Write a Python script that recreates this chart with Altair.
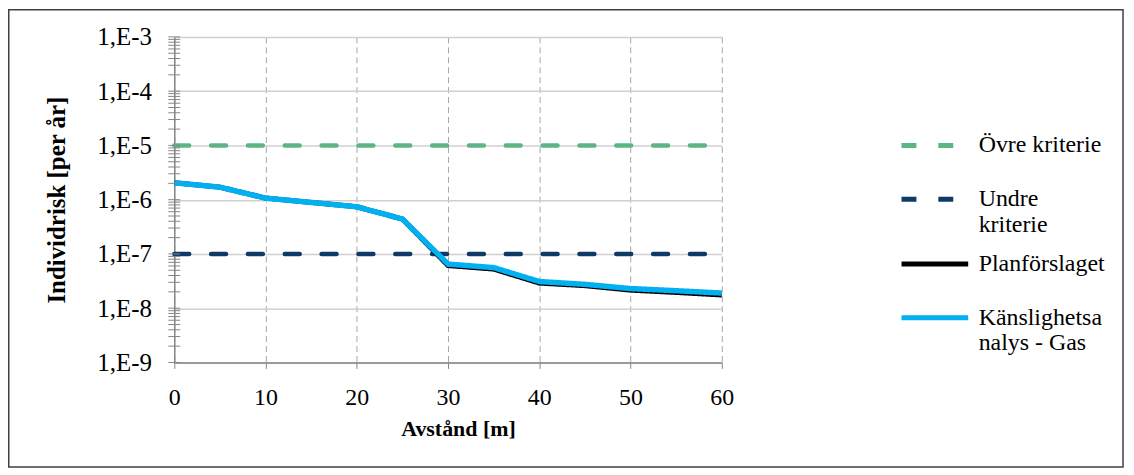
import altair as alt
import pandas as pd

# ---- data ----
distance = [0, 5, 10, 15, 20, 25, 30, 35, 40, 45, 50, 55, 60]
planforslaget = [2.05e-6, 1.7e-6, 1.07e-6, 8.9e-7, 7.4e-7, 4.4e-7, 6.1e-8, 5.25e-8,
                 2.9e-8, 2.6e-8, 2.15e-8, 1.95e-8, 1.75e-8]
kanslighet = [2.05e-6, 1.7e-6, 1.07e-6, 8.9e-7, 7.4e-7, 4.4e-7, 6.5e-8, 5.6e-8,
              3.1e-8, 2.75e-8, 2.3e-8, 2.1e-8, 1.9e-8]
crit_x = [0, 60]
ovre = [1e-5, 1e-5]
undre = [1e-7, 1e-7]

series_names = ["Övre kriterie", "Undre kriterie", "Planförslaget", "Känslighetsanalys - Gas"]
series_colors = ["#5db585", "#0f3a68", "#000000", "#00b0f0"]
series_dash = [[15, 22], [15, 22], [1, 0], [1, 0]]

x_ticks = [0, 10, 20, 30, 40, 50, 60]
y_ticks = [1e-9, 1e-8, 1e-7, 1e-6, 1e-5, 1e-4, 1e-3]
minor_mantissa = [2, 3, 4, 5, 6, 7, 8, 9]

rows = []
for xv, yv in zip(crit_x, ovre):
    rows.append({"x": xv, "y": yv, "series": series_names[0]})
for xv, yv in zip(crit_x, undre):
    rows.append({"x": xv, "y": yv, "series": series_names[1]})
for xv, yv in zip(distance, planforslaget):
    rows.append({"x": xv, "y": yv, "series": series_names[2]})
for xv, yv in zip(distance, kanslighet):
    rows.append({"x": xv, "y": yv, "series": series_names[3]})
df = pd.DataFrame(rows)

tick_vals = list(y_ticks) + [m * d for d in y_ticks[:-1] for m in minor_mantissa]
ticks_df = pd.DataFrame({"y": tick_vals})

FONT = "Liberation Serif, Times New Roman, serif"
AX_GRAY = "#868686"

x_enc = alt.X(
    "x:Q",
    scale=alt.Scale(domain=[0, 60], nice=False, zero=False),
    axis=alt.Axis(
        values=x_ticks, title="Avstånd [m]", grid=True, gridDash=[6, 4],
        gridColor="#a6a6a6", gridWidth=1, tickColor=AX_GRAY, tickSize=6,
        labelFont=FONT, labelFontSize=24, labelPadding=17, labelFlush=False,
        labelOverlap=False, labelColor="black",
        titleFont=FONT, titleFontWeight="bold", titleColor="black",
        titleFontSize=22, titleX=285, titleY=56, titleAlign="center",
        titleBaseline="top", domainColor=AX_GRAY, domainWidth=1.5,
    ),
)
y_scale = alt.Scale(type="log", domain=[1e-9, 1e-3], nice=False)
y_axis = alt.Axis(
    values=y_ticks, title="Individrisk [per år]", grid=True,
    gridColor="#d0d0d0", gridWidth=1.5, ticks=False,
    labelExpr="'1,E' + round(log(datum.value) / LN10)",
    labelFont=FONT, labelFontSize=25, labelPadding=23, labelOverlap=False,
    labelBaseline="middle", labelColor="black",
    titleFont=FONT, titleFontWeight="bold", titleColor="black",
    titleFontSize=25, titleX=-118, titleY=163.5, titleAngle=270,
    titleAlign="center", titleBaseline="middle",
    domainColor=AX_GRAY, domainWidth=1.5,
)
y_enc = alt.Y("y:Q", scale=y_scale, axis=y_axis)

legend = alt.Legend(
    title=None, orient="none", legendX=728, legendY=82, padding=0,
    labelExpr=("datum.label == 'Undre kriterie' ? ['Undre', 'kriterie'] : "
               "datum.label == 'Känslighetsanalys - Gas' ? ['Känslighetsa', 'nalys - Gas'] : datum.label"),
    labelFont=FONT, labelFontSize=24, labelColor="black", labelLimit=0,
    symbolType="stroke", symbolSize=4489, symbolStrokeWidth=5,
    labelOffset=8, rowPadding=0, clipHeight=54,
)

color_enc = alt.Color("series:N", scale=alt.Scale(domain=series_names, range=series_colors),
                      legend=legend)
dash_enc = alt.StrokeDash("series:N", scale=alt.Scale(domain=series_names, range=series_dash),
                          legend=legend)

base = alt.Chart(df).encode(x=x_enc, y=y_enc, color=color_enc, strokeDash=dash_enc)

ovre_line = base.transform_filter(alt.datum.series == series_names[0]).mark_line(strokeWidth=4.5, strokeCap="round")
undre_line = base.transform_filter(alt.datum.series == series_names[1]).mark_line(strokeWidth=4.5, strokeCap="round")
plan_line = base.transform_filter(alt.datum.series == series_names[2]).mark_line(strokeWidth=5)
kansl_line = base.transform_filter(alt.datum.series == series_names[3]).mark_line(strokeWidth=5.5)

tick_rules = alt.Chart(ticks_df).mark_rule(color=AX_GRAY, strokeWidth=1).encode(
    y=alt.Y("y:Q", scale=y_scale, axis=y_axis),
    x=alt.value(-6), x2=alt.value(6),
)

frame = alt.Chart(pd.DataFrame({"a": [0]})).mark_rect(
    fill="white", fillOpacity=0, stroke="#404040", strokeWidth=1.5
).encode(x=alt.value(-166.25), x2=alt.value(953), y=alt.value(-27.25), y2=alt.value(432))

chart = alt.layer(
    ovre_line, undre_line, plan_line, kansl_line, tick_rules, frame
).properties(
    width=550, height=327,
    padding={"left": 167, "top": 28, "right": 406, "bottom": 107},
    autosize=alt.AutoSizeParams(type="none"),
    background="white",
).configure(font=FONT).configure_view(strokeWidth=0).configure_axis(
    labelFont=FONT, labelColor="black", titleFont=FONT, titleColor="black",
    titleFontWeight="bold",
).configure_legend(labelFont=FONT)

chart.save("out.html", embed_options={"renderer": "svg", "actions": False})
